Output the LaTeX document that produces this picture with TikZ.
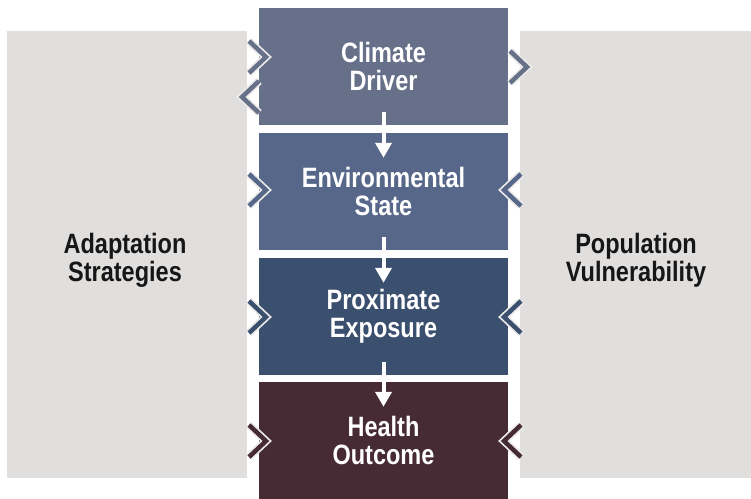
\documentclass[tikz,border=0pt]{standalone}
\usepackage{fontspec}
\newfontfamily\cf{Liberation Sans}[FakeStretch=0.84]
\usetikzlibrary{arrows.meta}
\definecolor{cA}{HTML}{677089}
\definecolor{cB}{HTML}{57678A}
\definecolor{cC}{HTML}{3B4F6E}
\definecolor{cD}{HTML}{462B34}
\definecolor{panel}{HTML}{E1DFDD}
\definecolor{halo}{HTML}{ECEBEA}
\definecolor{ink}{HTML}{161616}
\tikzset{
  box/.style={fill=#1, draw=none, minimum width=249pt, minimum height=117pt, inner sep=0pt,
    text=white, align=center, font=\cf\bfseries\fontsize{28}{28}\selectfont},
  side/.style={fill=panel, draw=none, inner sep=0pt, align=center, text=ink,
    font=\cf\bfseries\fontsize{28}{28}\selectfont},
  arr/.style={draw=white, line width=4pt, -{Triangle[width=16pt,length=15pt]}},
  chevhalo/.style={draw=halo, line width=8pt, line join=miter},
  chev/.style={draw=#1, line width=4.5pt, line join=miter}
}
\newcommand{\chevron}[4]{% color, x-end, x-tip, y-center
  \draw[chevhalo] (#2,#4-16) -- (#3,#4) -- (#2,#4+16);
  \draw[chev=#1] (#2,#4-16) -- (#3,#4) -- (#2,#4+16);}
\begin{document}
\begin{tikzpicture}[x=1pt,y=-1pt]
\useasboundingbox (0,0) rectangle (751,498);
\fill[white] (0,0) rectangle (751,498);
% side panels
\node[side, minimum width=240pt, minimum height=447pt] (as) at (127,254.5) {};
\node[side, minimum width=231pt, minimum height=447pt] (pv) at (635.5,254.5) {};
% center boxes
\node[box=cA] (c1) at (383.5,66.5) {Climate\\Driver};
\node[box=cB] (c2) at (383.5,191.5) {Environmental\\State};
\node[box=cC] (c3) at (383.5,316.5) {Proximate\\Exposure};
\node[box=cD] (c4) at (383.5,440.5) {Health\\Outcome};
% chevrons left
\chevron{cA}{249}{266}{57}
\chevron{cA}{259}{242}{97}
\chevron{cB}{249}{266}{190}
\chevron{cC}{249}{266}{317}
\chevron{cD}{249}{266}{441}
% chevrons right
\chevron{cA}{510}{527}{67}
\chevron{cB}{521}{504}{190}
\chevron{cC}{521}{504}{317}
\chevron{cD}{521}{504}{441}
% side labels
\node[side, fill=none] (ast) at (125,260) {Adaptation\\Strategies};
\node[side, fill=none] (pvt) at (636,260) {Population\\Vulnerability};
% arrows
\draw[arr] ([yshift=13pt]c1.south) -- ([yshift=-25pt]c2.north);
\draw[arr] ([yshift=13pt]c2.south) -- ([yshift=-25pt]c3.north);
\draw[arr] ([yshift=13pt]c3.south) -- ([yshift=-25pt]c4.north);
\end{tikzpicture}
\end{document}
